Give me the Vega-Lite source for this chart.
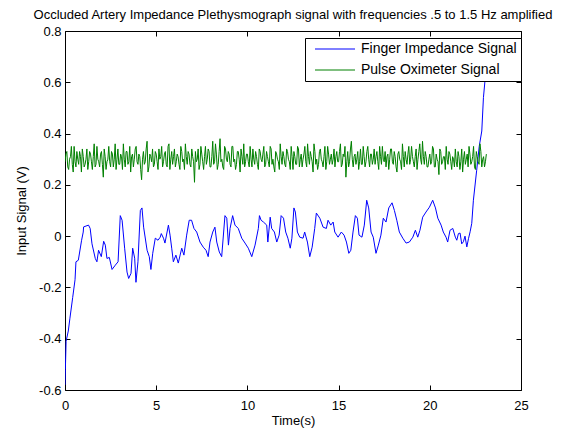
{
 "$schema": "https://vega.github.io/schema/vega-lite/v6.json",
 "width": 456, "height": 359,
 "autosize": {"type": "none"},
 "padding": {"left": 65, "top": 31, "right": 55, "bottom": 40},
 "background": "white",
 "title": {"text": "Occluded Artery Impedance Plethysmograph signal with frequencies .5 to 1.5 Hz amplified", "fontSize": 13, "fontWeight": "normal", "font": "Liberation Sans", "offset": 3, "anchor": "middle", "color": "black"},
 "datasets": {
  "finger": [
   {"t":0,"v":-0.58},{"t":0.02,"v":-0.52},{"t":0.06,"v":-0.41},{"t":0.18,"v":-0.37},{"t":0.27,"v":-0.32},{"t":0.42,"v":-0.24},{"t":0.55,"v":-0.17},{"t":0.6,"v":-0.1},{"t":0.73,"v":-0.094},{"t":0.91,"v":-0.016},{"t":1.0,"v":0.016},{"t":1.02,"v":0.036},{"t":1.29,"v":0.043},{"t":1.38,"v":0.03},{"t":1.48,"v":-0.03},{"t":1.66,"v":-0.087},{"t":1.75,"v":-0.1},{"t":1.84,"v":-0.055},{"t":1.99,"v":-0.08},{"t":2.12,"v":-0.02},{"t":2.21,"v":-0.035},{"t":2.3,"v":-0.087},{"t":2.43,"v":-0.083},{"t":2.58,"v":-0.13},{"t":2.76,"v":-0.113},{"t":2.91,"v":-0.1},{"t":3.03,"v":0.08},{"t":3.13,"v":0.062},{"t":3.27,"v":-0.047},{"t":3.4,"v":-0.14},{"t":3.49,"v":-0.165},{"t":3.62,"v":-0.145},{"t":3.71,"v":-0.047},{"t":3.82,"v":-0.086},{"t":3.89,"v":-0.18},{"t":4.0,"v":-0.1},{"t":4.13,"v":0.1},{"t":4.22,"v":0.11},{"t":4.31,"v":0.035},{"t":4.5,"v":-0.055},{"t":4.62,"v":-0.08},{"t":4.71,"v":-0.13},{"t":4.81,"v":-0.067},{"t":4.95,"v":-0.008},{"t":5.1,"v":-0.016},{"t":5.22,"v":-0.004},{"t":5.28,"v":0.01},{"t":5.4,"v":-0.008},{"t":5.48,"v":-0.027},{"t":5.67,"v":0.043},{"t":5.76,"v":0.004},{"t":5.85,"v":-0.047},{"t":5.94,"v":-0.1},{"t":6.08,"v":-0.074},{"t":6.21,"v":-0.105},{"t":6.4,"v":-0.047},{"t":6.52,"v":-0.074},{"t":6.67,"v":0.004},{"t":6.81,"v":0.062},{"t":6.94,"v":0.062},{"t":7.07,"v":0.03},{"t":7.22,"v":0.016},{"t":7.4,"v":-0.023},{"t":7.58,"v":-0.043},{"t":7.73,"v":-0.055},{"t":7.85,"v":-0.08},{"t":7.95,"v":-0.023},{"t":8.1,"v":0.016},{"t":8.22,"v":0.035},{"t":8.32,"v":-0.023},{"t":8.46,"v":-0.062},{"t":8.59,"v":-0.08},{"t":8.77,"v":0.08},{"t":8.87,"v":0.07},{"t":8.96,"v":-0.035},{"t":9.05,"v":0.03},{"t":9.19,"v":0.08},{"t":9.32,"v":0.043},{"t":9.5,"v":0.03},{"t":9.69,"v":-0.008},{"t":9.87,"v":-0.027},{"t":10.05,"v":-0.047},{"t":10.24,"v":-0.08},{"t":10.42,"v":-0.035},{"t":10.6,"v":0.03},{"t":10.66,"v":0.08},{"t":10.75,"v":0.062},{"t":10.88,"v":0.055},{"t":11.06,"v":0.043},{"t":11.12,"v":-0.023},{"t":11.25,"v":0.074},{"t":11.33,"v":0.03},{"t":11.48,"v":0.016},{"t":11.61,"v":-0.023},{"t":11.74,"v":0.004},{"t":11.85,"v":0.08},{"t":11.98,"v":0.07},{"t":12.1,"v":0.016},{"t":12.22,"v":-0.008},{"t":12.35,"v":-0.047},{"t":12.44,"v":-0.008},{"t":12.55,"v":0.11},{"t":12.63,"v":0.094},{"t":12.74,"v":0.016},{"t":12.87,"v":-0.004},{"t":13.05,"v":-0.008},{"t":13.14,"v":0.016},{"t":13.29,"v":-0.023},{"t":13.42,"v":-0.08},{"t":13.55,"v":-0.043},{"t":13.69,"v":0.03},{"t":13.78,"v":0.09},{"t":13.97,"v":0.07},{"t":14.15,"v":0.035},{"t":14.33,"v":0.03},{"t":14.42,"v":0.062},{"t":14.57,"v":0.043},{"t":14.7,"v":0.055},{"t":14.79,"v":0.016},{"t":14.97,"v":-0.004},{"t":15.15,"v":0.016},{"t":15.3,"v":0.004},{"t":15.43,"v":-0.023},{"t":15.56,"v":-0.067},{"t":15.67,"v":-0.055},{"t":15.79,"v":0.016},{"t":15.92,"v":0.08},{"t":16.03,"v":0.07},{"t":16.12,"v":0.004},{"t":16.28,"v":-0.004},{"t":16.41,"v":0.043},{"t":16.54,"v":0.14},{"t":16.65,"v":0.11},{"t":16.78,"v":0.016},{"t":16.9,"v":-0.004},{"t":17.05,"v":-0.067},{"t":17.18,"v":-0.035},{"t":17.32,"v":0.004},{"t":17.45,"v":0.07},{"t":17.6,"v":0.055},{"t":17.75,"v":0.11},{"t":17.93,"v":0.13},{"t":18.06,"v":0.1},{"t":18.19,"v":0.062},{"t":18.33,"v":0.016},{"t":18.52,"v":-0.008},{"t":18.7,"v":-0.027},{"t":18.88,"v":-0.023},{"t":19.07,"v":-0.004},{"t":19.21,"v":0.023},{"t":19.34,"v":-0.004},{"t":19.46,"v":0.023},{"t":19.61,"v":0.074},{"t":19.79,"v":0.094},{"t":19.98,"v":0.113},{"t":20.16,"v":0.14},{"t":20.31,"v":0.11},{"t":20.44,"v":0.07},{"t":20.62,"v":0.043},{"t":20.74,"v":0.016},{"t":20.89,"v":-0.004},{"t":20.98,"v":-0.023},{"t":21.11,"v":0.023},{"t":21.26,"v":0.03},{"t":21.4,"v":-0.004},{"t":21.48,"v":-0.016},{"t":21.57,"v":0.01},{"t":21.66,"v":0.012},{"t":21.75,"v":-0.03},{"t":21.84,"v":-0.022},{"t":21.93,"v":0.0},{"t":22.03,"v":-0.042},{"t":22.12,"v":-0.01},{"t":22.21,"v":0.017},{"t":22.3,"v":0.05},{"t":22.39,"v":0.14},{"t":22.57,"v":0.257},{"t":22.71,"v":0.35},{"t":22.85,"v":0.41},{"t":22.94,"v":0.54},{"t":23.03,"v":0.61},{"t":23.08,"v":0.7}
  ],
  "pulse": [
   {"t":0.0,"v":0.29},{"t":0.1,"v":0.33},{"t":0.2,"v":0.26},{"t":0.3,"v":0.31},{"t":0.4,"v":0.28},{"t":0.5,"v":0.35},{"t":0.6,"v":0.27},{"t":0.7,"v":0.30},{"t":0.8,"v":0.33},{"t":0.9,"v":0.25},
   {"t":1.0,"v":0.31},{"t":1.1,"v":0.28},{"t":1.2,"v":0.34},{"t":1.3,"v":0.29},{"t":1.4,"v":0.32},{"t":1.5,"v":0.26},{"t":1.6,"v":0.36},{"t":1.7,"v":0.28},{"t":1.8,"v":0.30},{"t":1.9,"v":0.27},
   {"t":2.0,"v":0.33},{"t":2.1,"v":0.23},{"t":2.2,"v":0.31},{"t":2.3,"v":0.29},{"t":2.4,"v":0.35},{"t":2.5,"v":0.27},{"t":2.6,"v":0.32},{"t":2.7,"v":0.30},{"t":2.8,"v":0.26},{"t":2.9,"v":0.34},
   {"t":3.0,"v":0.28},{"t":3.1,"v":0.31},{"t":3.2,"v":0.36},{"t":3.3,"v":0.27},{"t":3.4,"v":0.33},{"t":3.5,"v":0.29},{"t":3.6,"v":0.25},{"t":3.7,"v":0.32},{"t":3.8,"v":0.30},{"t":3.9,"v":0.35},
   {"t":4.0,"v":0.28},{"t":4.1,"v":0.31},{"t":4.2,"v":0.22},{"t":4.3,"v":0.33},{"t":4.4,"v":0.29},{"t":4.5,"v":0.37},{"t":4.6,"v":0.27},{"t":4.7,"v":0.31},{"t":4.8,"v":0.34},{"t":4.9,"v":0.28},
   {"t":5.0,"v":0.32},{"t":5.1,"v":0.26},{"t":5.2,"v":0.30},{"t":5.3,"v":0.35},{"t":5.4,"v":0.29},{"t":5.5,"v":0.33},{"t":5.6,"v":0.27},{"t":5.7,"v":0.36},{"t":5.8,"v":0.30},{"t":5.9,"v":0.28},
   {"t":6.0,"v":0.34},{"t":6.1,"v":0.29},{"t":6.2,"v":0.31},{"t":6.3,"v":0.26},{"t":6.4,"v":0.33},{"t":6.5,"v":0.30},{"t":6.6,"v":0.36},{"t":6.7,"v":0.28},{"t":6.8,"v":0.32},{"t":6.9,"v":0.27},
   {"t":7.0,"v":0.31},{"t":7.1,"v":0.21},{"t":7.2,"v":0.29},{"t":7.3,"v":0.34},{"t":7.4,"v":0.28},{"t":7.5,"v":0.32},{"t":7.6,"v":0.26},{"t":7.7,"v":0.35},{"t":7.8,"v":0.30},{"t":7.9,"v":0.33},
   {"t":8.0,"v":0.27},{"t":8.1,"v":0.37},{"t":8.2,"v":0.29},{"t":8.3,"v":0.32},{"t":8.4,"v":0.28},{"t":8.5,"v":0.38},{"t":8.6,"v":0.30},{"t":8.7,"v":0.26},{"t":8.8,"v":0.34},{"t":8.9,"v":0.29},
   {"t":9.0,"v":0.32},{"t":9.1,"v":0.27},{"t":9.2,"v":0.35},{"t":9.3,"v":0.30},{"t":9.4,"v":0.28},{"t":9.5,"v":0.33},{"t":9.6,"v":0.25},{"t":9.7,"v":0.31},{"t":9.8,"v":0.36},{"t":9.9,"v":0.29},
   {"t":10.0,"v":0.32},{"t":10.1,"v":0.27},{"t":10.2,"v":0.30},{"t":10.3,"v":0.34},{"t":10.4,"v":0.28},{"t":10.5,"v":0.31},{"t":10.6,"v":0.26},{"t":10.7,"v":0.33},{"t":10.8,"v":0.29},{"t":10.9,"v":0.35},
   {"t":11.0,"v":0.28},{"t":11.1,"v":0.31},{"t":11.2,"v":0.27},{"t":11.3,"v":0.34},{"t":11.4,"v":0.30},{"t":11.5,"v":0.25},{"t":11.6,"v":0.32},{"t":11.7,"v":0.29},{"t":11.8,"v":0.36},{"t":11.9,"v":0.28},
   {"t":12.0,"v":0.31},{"t":12.1,"v":0.27},{"t":12.2,"v":0.33},{"t":12.3,"v":0.29},{"t":12.4,"v":0.35},{"t":12.5,"v":0.26},{"t":12.6,"v":0.31},{"t":12.7,"v":0.28},{"t":12.8,"v":0.34},{"t":12.9,"v":0.30},
   {"t":13.0,"v":0.27},{"t":13.1,"v":0.32},{"t":13.2,"v":0.29},{"t":13.3,"v":0.36},{"t":13.4,"v":0.28},{"t":13.5,"v":0.31},{"t":13.6,"v":0.25},{"t":13.7,"v":0.33},{"t":13.8,"v":0.30},{"t":13.9,"v":0.28},
   {"t":14.0,"v":0.34},{"t":14.1,"v":0.29},{"t":14.2,"v":0.31},{"t":14.3,"v":0.26},{"t":14.4,"v":0.35},{"t":14.5,"v":0.28},{"t":14.6,"v":0.32},{"t":14.7,"v":0.30},{"t":14.8,"v":0.27},{"t":14.9,"v":0.33},
   {"t":15.0,"v":0.29},{"t":15.1,"v":0.36},{"t":15.2,"v":0.28},{"t":15.3,"v":0.31},{"t":15.4,"v":0.23},{"t":15.5,"v":0.33},{"t":15.6,"v":0.29},{"t":15.7,"v":0.37},{"t":15.8,"v":0.27},{"t":15.9,"v":0.32},
   {"t":16.0,"v":0.30},{"t":16.1,"v":0.26},{"t":16.2,"v":0.34},{"t":16.3,"v":0.28},{"t":16.4,"v":0.31},{"t":16.5,"v":0.29},{"t":16.6,"v":0.35},{"t":16.7,"v":0.27},{"t":16.8,"v":0.32},{"t":16.9,"v":0.30},
   {"t":17.0,"v":0.28},{"t":17.1,"v":0.33},{"t":17.2,"v":0.26},{"t":17.3,"v":0.31},{"t":17.4,"v":0.35},{"t":17.5,"v":0.29},{"t":17.6,"v":0.27},{"t":17.7,"v":0.32},{"t":17.8,"v":0.30},{"t":17.9,"v":0.34},
   {"t":18.0,"v":0.28},{"t":18.1,"v":0.31},{"t":18.2,"v":0.25},{"t":18.3,"v":0.33},{"t":18.4,"v":0.29},{"t":18.5,"v":0.36},{"t":18.6,"v":0.27},{"t":18.7,"v":0.30},{"t":18.8,"v":0.32},{"t":18.9,"v":0.28},
   {"t":19.0,"v":0.35},{"t":19.1,"v":0.29},{"t":19.2,"v":0.31},{"t":19.3,"v":0.26},{"t":19.4,"v":0.33},{"t":19.5,"v":0.30},{"t":19.6,"v":0.37},{"t":19.7,"v":0.28},{"t":19.8,"v":0.31},{"t":19.9,"v":0.27},
   {"t":20.0,"v":0.32},{"t":20.1,"v":0.29},{"t":20.2,"v":0.34},{"t":20.3,"v":0.27},{"t":20.4,"v":0.30},{"t":20.5,"v":0.24},{"t":20.6,"v":0.33},{"t":20.7,"v":0.29},{"t":20.8,"v":0.31},{"t":20.9,"v":0.35},
   {"t":21.0,"v":0.28},{"t":21.1,"v":0.32},{"t":21.2,"v":0.26},{"t":21.3,"v":0.30},{"t":21.4,"v":0.34},{"t":21.5,"v":0.27},{"t":21.6,"v":0.31},{"t":21.7,"v":0.29},{"t":21.8,"v":0.25},{"t":21.9,"v":0.33},
   {"t":22.0,"v":0.30},{"t":22.1,"v":0.27},{"t":22.2,"v":0.32},{"t":22.3,"v":0.29},{"t":22.4,"v":0.35},{"t":22.5,"v":0.26},{"t":22.6,"v":0.31},{"t":22.7,"v":0.28},{"t":22.8,"v":0.33},{"t":22.9,"v":0.30},
   {"t":23.0,"v":0.27},{"t":23.1,"v":0.32},
   {"t":0.05,"v":0.32},{"t":0.15,"v":0.27},{"t":0.25,"v":0.30},{"t":0.35,"v":0.35},{"t":0.45,"v":0.25},{"t":0.55,"v":0.29},{"t":0.65,"v":0.33},{"t":0.75,"v":0.28},{"t":0.85,"v":0.31},{"t":0.95,"v":0.34},
   {"t":1.05,"v":0.27},{"t":1.15,"v":0.30},{"t":1.25,"v":0.26},{"t":1.35,"v":0.33},{"t":1.45,"v":0.29},{"t":1.55,"v":0.31},{"t":1.65,"v":0.27},{"t":1.75,"v":0.35},{"t":1.85,"v":0.29},{"t":1.95,"v":0.32},
   {"t":2.05,"v":0.28},{"t":2.15,"v":0.34},{"t":2.25,"v":0.26},{"t":2.35,"v":0.30},{"t":2.45,"v":0.29},{"t":2.55,"v":0.33},{"t":2.65,"v":0.27},{"t":2.75,"v":0.36},{"t":2.85,"v":0.30},{"t":2.95,"v":0.28},
   {"t":3.05,"v":0.32},{"t":3.15,"v":0.26},{"t":3.25,"v":0.30},{"t":3.35,"v":0.33},{"t":3.45,"v":0.28},{"t":3.55,"v":0.35},{"t":3.65,"v":0.31},{"t":3.75,"v":0.27},{"t":3.85,"v":0.34},{"t":3.95,"v":0.29},
   {"t":4.05,"v":0.32},{"t":4.15,"v":0.26},{"t":4.25,"v":0.30},{"t":4.35,"v":0.28},{"t":4.45,"v":0.34},{"t":4.55,"v":0.25},{"t":4.65,"v":0.32},{"t":4.75,"v":0.29},{"t":4.85,"v":0.27},{"t":4.95,"v":0.33},
   {"t":5.05,"v":0.29},{"t":5.15,"v":0.34},{"t":5.25,"v":0.31},{"t":5.35,"v":0.27},{"t":5.45,"v":0.32},{"t":5.55,"v":0.28},{"t":5.65,"v":0.35},{"t":5.75,"v":0.26},{"t":5.85,"v":0.33},{"t":5.95,"v":0.31},
   {"t":6.05,"v":0.27},{"t":6.15,"v":0.32},{"t":6.25,"v":0.28},{"t":6.35,"v":0.35},{"t":6.45,"v":0.29},{"t":6.55,"v":0.26},{"t":6.65,"v":0.31},{"t":6.75,"v":0.33},{"t":6.85,"v":0.28},{"t":6.95,"v":0.34},
   {"t":7.05,"v":0.29},{"t":7.15,"v":0.33},{"t":7.25,"v":0.30},{"t":7.35,"v":0.26},{"t":7.45,"v":0.35},{"t":7.55,"v":0.29},{"t":7.65,"v":0.31},{"t":7.75,"v":0.28},{"t":7.85,"v":0.34},{"t":7.95,"v":0.27},
   {"t":8.05,"v":0.31},{"t":8.15,"v":0.28},{"t":8.25,"v":0.36},{"t":8.35,"v":0.26},{"t":8.45,"v":0.33},{"t":8.55,"v":0.29},{"t":8.65,"v":0.27},{"t":8.75,"v":0.35},{"t":8.85,"v":0.30},{"t":8.95,"v":0.33},
   {"t":9.05,"v":0.28},{"t":9.15,"v":0.35},{"t":9.25,"v":0.29},{"t":9.35,"v":0.26},{"t":9.45,"v":0.33},{"t":9.55,"v":0.30},{"t":9.65,"v":0.34},{"t":9.75,"v":0.28},{"t":9.85,"v":0.27},{"t":9.95,"v":0.32},
   {"t":10.05,"v":0.29},{"t":10.15,"v":0.35},{"t":10.25,"v":0.27},{"t":10.35,"v":0.30},{"t":10.45,"v":0.33},{"t":10.55,"v":0.28},{"t":10.65,"v":0.34},{"t":10.75,"v":0.30},{"t":10.85,"v":0.32},{"t":10.95,"v":0.27},
   {"t":11.05,"v":0.33},{"t":11.15,"v":0.29},{"t":11.25,"v":0.35},{"t":11.35,"v":0.28},{"t":11.45,"v":0.27},{"t":11.55,"v":0.33},{"t":11.65,"v":0.30},{"t":11.75,"v":0.26},{"t":11.85,"v":0.31},{"t":11.95,"v":0.33},
   {"t":12.05,"v":0.28},{"t":12.15,"v":0.34},{"t":12.25,"v":0.30},{"t":12.35,"v":0.26},{"t":12.45,"v":0.31},{"t":12.55,"v":0.33},{"t":12.65,"v":0.28},{"t":12.75,"v":0.35},{"t":12.85,"v":0.27},{"t":12.95,"v":0.32},
   {"t":13.05,"v":0.30},{"t":13.15,"v":0.35},{"t":13.25,"v":0.27},{"t":13.35,"v":0.31},{"t":13.45,"v":0.33},{"t":13.55,"v":0.29},{"t":13.65,"v":0.36},{"t":13.75,"v":0.28},{"t":13.85,"v":0.26},{"t":13.95,"v":0.33},
   {"t":14.05,"v":0.30},{"t":14.15,"v":0.27},{"t":14.25,"v":0.35},{"t":14.35,"v":0.29},{"t":14.45,"v":0.32},{"t":14.55,"v":0.30},{"t":14.65,"v":0.28},{"t":14.75,"v":0.34},{"t":14.85,"v":0.31},{"t":14.95,"v":0.29},
   {"t":15.05,"v":0.33},{"t":15.15,"v":0.27},{"t":15.25,"v":0.32},{"t":15.35,"v":0.35},{"t":15.45,"v":0.29},{"t":15.55,"v":0.27},{"t":15.65,"v":0.34},{"t":15.75,"v":0.30},{"t":15.85,"v":0.31},{"t":15.95,"v":0.28},
   {"t":16.05,"v":0.33},{"t":16.15,"v":0.29},{"t":16.25,"v":0.28},{"t":16.35,"v":0.35},{"t":16.45,"v":0.27},{"t":16.55,"v":0.33},{"t":16.65,"v":0.30},{"t":16.75,"v":0.32},{"t":16.85,"v":0.28},{"t":16.95,"v":0.34},
   {"t":17.05,"v":0.31},{"t":17.15,"v":0.29},{"t":17.25,"v":0.35},{"t":17.35,"v":0.28},{"t":17.45,"v":0.30},{"t":17.55,"v":0.33},{"t":17.65,"v":0.31},{"t":17.75,"v":0.26},{"t":17.85,"v":0.34},{"t":17.95,"v":0.29},
   {"t":18.05,"v":0.33},{"t":18.15,"v":0.27},{"t":18.25,"v":0.32},{"t":18.35,"v":0.30},{"t":18.45,"v":0.26},{"t":18.55,"v":0.31},{"t":18.65,"v":0.33},{"t":18.75,"v":0.28},{"t":18.85,"v":0.35},{"t":18.95,"v":0.30},
   {"t":19.05,"v":0.31},{"t":19.15,"v":0.27},{"t":19.25,"v":0.34},{"t":19.35,"v":0.30},{"t":19.45,"v":0.36},{"t":19.55,"v":0.28},{"t":19.65,"v":0.31},{"t":19.75,"v":0.33},{"t":19.85,"v":0.27},{"t":19.95,"v":0.30},
   {"t":20.05,"v":0.28},{"t":20.15,"v":0.35},{"t":20.25,"v":0.27},{"t":20.35,"v":0.32},{"t":20.45,"v":0.29},{"t":20.55,"v":0.34},{"t":20.65,"v":0.28},{"t":20.75,"v":0.31},{"t":20.85,"v":0.26},{"t":20.95,"v":0.30},
   {"t":21.05,"v":0.33},{"t":21.15,"v":0.29},{"t":21.25,"v":0.31},{"t":21.35,"v":0.27},{"t":21.45,"v":0.29},{"t":21.55,"v":0.33},{"t":21.65,"v":0.26},{"t":21.75,"v":0.34},{"t":21.85,"v":0.30},{"t":21.95,"v":0.28},
   {"t":22.05,"v":0.32},{"t":22.15,"v":0.35},{"t":22.25,"v":0.28},{"t":22.35,"v":0.31},{"t":22.45,"v":0.27},{"t":22.55,"v":0.33},{"t":22.65,"v":0.29},{"t":22.75,"v":0.36},{"t":22.85,"v":0.27},{"t":22.95,"v":0.31},
   {"t":23.05,"v":0.29}
  ]
 },
 "layer": [
  {
   "data": {"name": "finger"},
   "mark": {"type": "line", "strokeWidth": 1, "clip": true},
   "encoding": {
    "x": {"field": "t", "type": "quantitative", "scale": {"domain": [0, 25], "nice": false, "zero": false},
          "axis": {"orient": "top", "labels": false, "title": null, "values": [0, 5, 10, 15, 20, 25]}},
    "y": {"field": "v", "type": "quantitative", "scale": {"domain": [-0.6, 0.8], "nice": false, "zero": false},
          "axis": {"orient": "right", "labels": false, "title": null, "values": [-0.6, -0.4, -0.2, 0, 0.2, 0.4, 0.6, 0.8]}},
    "color": {"datum": "Finger Impedance Signal", "type": "nominal",
              "scale": {"domain": ["Finger Impedance Signal", "Pulse Oximeter Signal"], "range": ["#0000ff", "#008000"]},
              "legend": {"orient": "none", "legendX": 240, "legendY": 7, "title": null}}
   }
  },
  {
   "data": {"name": "pulse"},
   "mark": {"type": "line", "strokeWidth": 1, "clip": true},
   "encoding": {
    "x": {"field": "t", "type": "quantitative",
          "axis": {"orient": "bottom", "title": "Time(s)", "values": [0, 5, 10, 15, 20, 25]}},
    "y": {"field": "v", "type": "quantitative",
          "axis": {"orient": "left", "title": "Input Signal (V)", "values": [-0.6, -0.4, -0.2, 0, 0.2, 0.4, 0.6, 0.8],
                   "labelExpr": "replace(format(datum.value, '.1~f'), '\u2212', '-')"}},
    "color": {"datum": "Pulse Oximeter Signal", "type": "nominal"}
   }
  }
 ],
 "resolve": {"axis": {"x": "independent", "y": "independent"}},
 "config": {
  "view": {"stroke": "black", "strokeWidth": 1},
  "axis": {"grid": false, "domain": false, "tickColor": "black", "labelColor": "black", "titleColor": "black",
           "labelFont": "Liberation Sans", "titleFont": "Liberation Sans", "labelFontSize": 13, "titleFontSize": 13,
           "titleFontWeight": "normal", "tickSize": 5, "offset": -5, "tickWidth": 1, "ticks": true, "zindex": 1,
           "labelFlush": false, "labelOverlap": false},
  "axisLeft": {"titlePadding": 10, "labelPadding": 4},
  "axisBottom": {"titlePadding": 2, "labelPadding": 9},
  "legend": {"fillColor": "white", "strokeColor": "black", "padding": 4, "symbolType": "M-4,0H4", "symbolSize": 100,
             "symbolOffset": 19, "symbolStrokeWidth": 1, "labelFont": "Liberation Sans", "labelFontSize": 14, "labelColor": "black",
             "labelLimit": 400, "rowPadding": 7, "labelOffset": 19, "zindex": 2}
 }
}
